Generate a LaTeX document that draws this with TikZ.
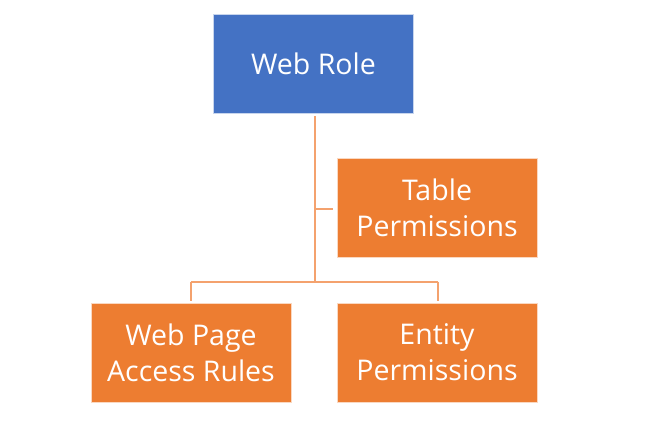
\documentclass[tikz,border=0pt]{standalone}
\usepackage{fontspec}
\setmainfont{Open Sans}
\definecolor{rblue}{HTML}{4472C4}
\definecolor{rorange}{HTML}{ED7D31}
\definecolor{rline}{HTML}{F4A26E}
\begin{document}
\begin{tikzpicture}[x=1pt,y=-1pt,
  box/.style={draw=white!70!#1, line width=0.8pt, fill=#1, text=white, minimum width=200pt, minimum height=99pt, inner sep=0pt, align=center, font=\fontsize{28.5}{36}\selectfont},
  conn/.style={draw=rline, line width=1.6pt}]
\useasboundingbox (0,0) rectangle (649,422);
\node[box=rblue] (web) at (313.5,63.5) {Web Role};
\node[box=rorange] (table) at (437,208) {Table\\Permissions};
\node[box=rorange] (page) at (191,352.5) {Web Page\\Access Rules};
\node[box=rorange] (entity) at (437,352.5) {Entity\\Permissions};
\coordinate (top) at (315,116);
\coordinate (tj) at (315,209);
\coordinate (bus) at (315,282);
\coordinate (bl) at (191,282);
\coordinate (br) at (438,282);
\coordinate (bld) at (191,301);
\coordinate (brd) at (438,301);
\coordinate (te) at (333,209);
\draw[conn] (top) -- (bus);
\draw[conn] (tj) -- (te);
\draw[conn] (bl) -- (br);
\draw[conn] (bl) -- (bld);
\draw[conn] (br) -- (brd);
\end{tikzpicture}
\end{document}
